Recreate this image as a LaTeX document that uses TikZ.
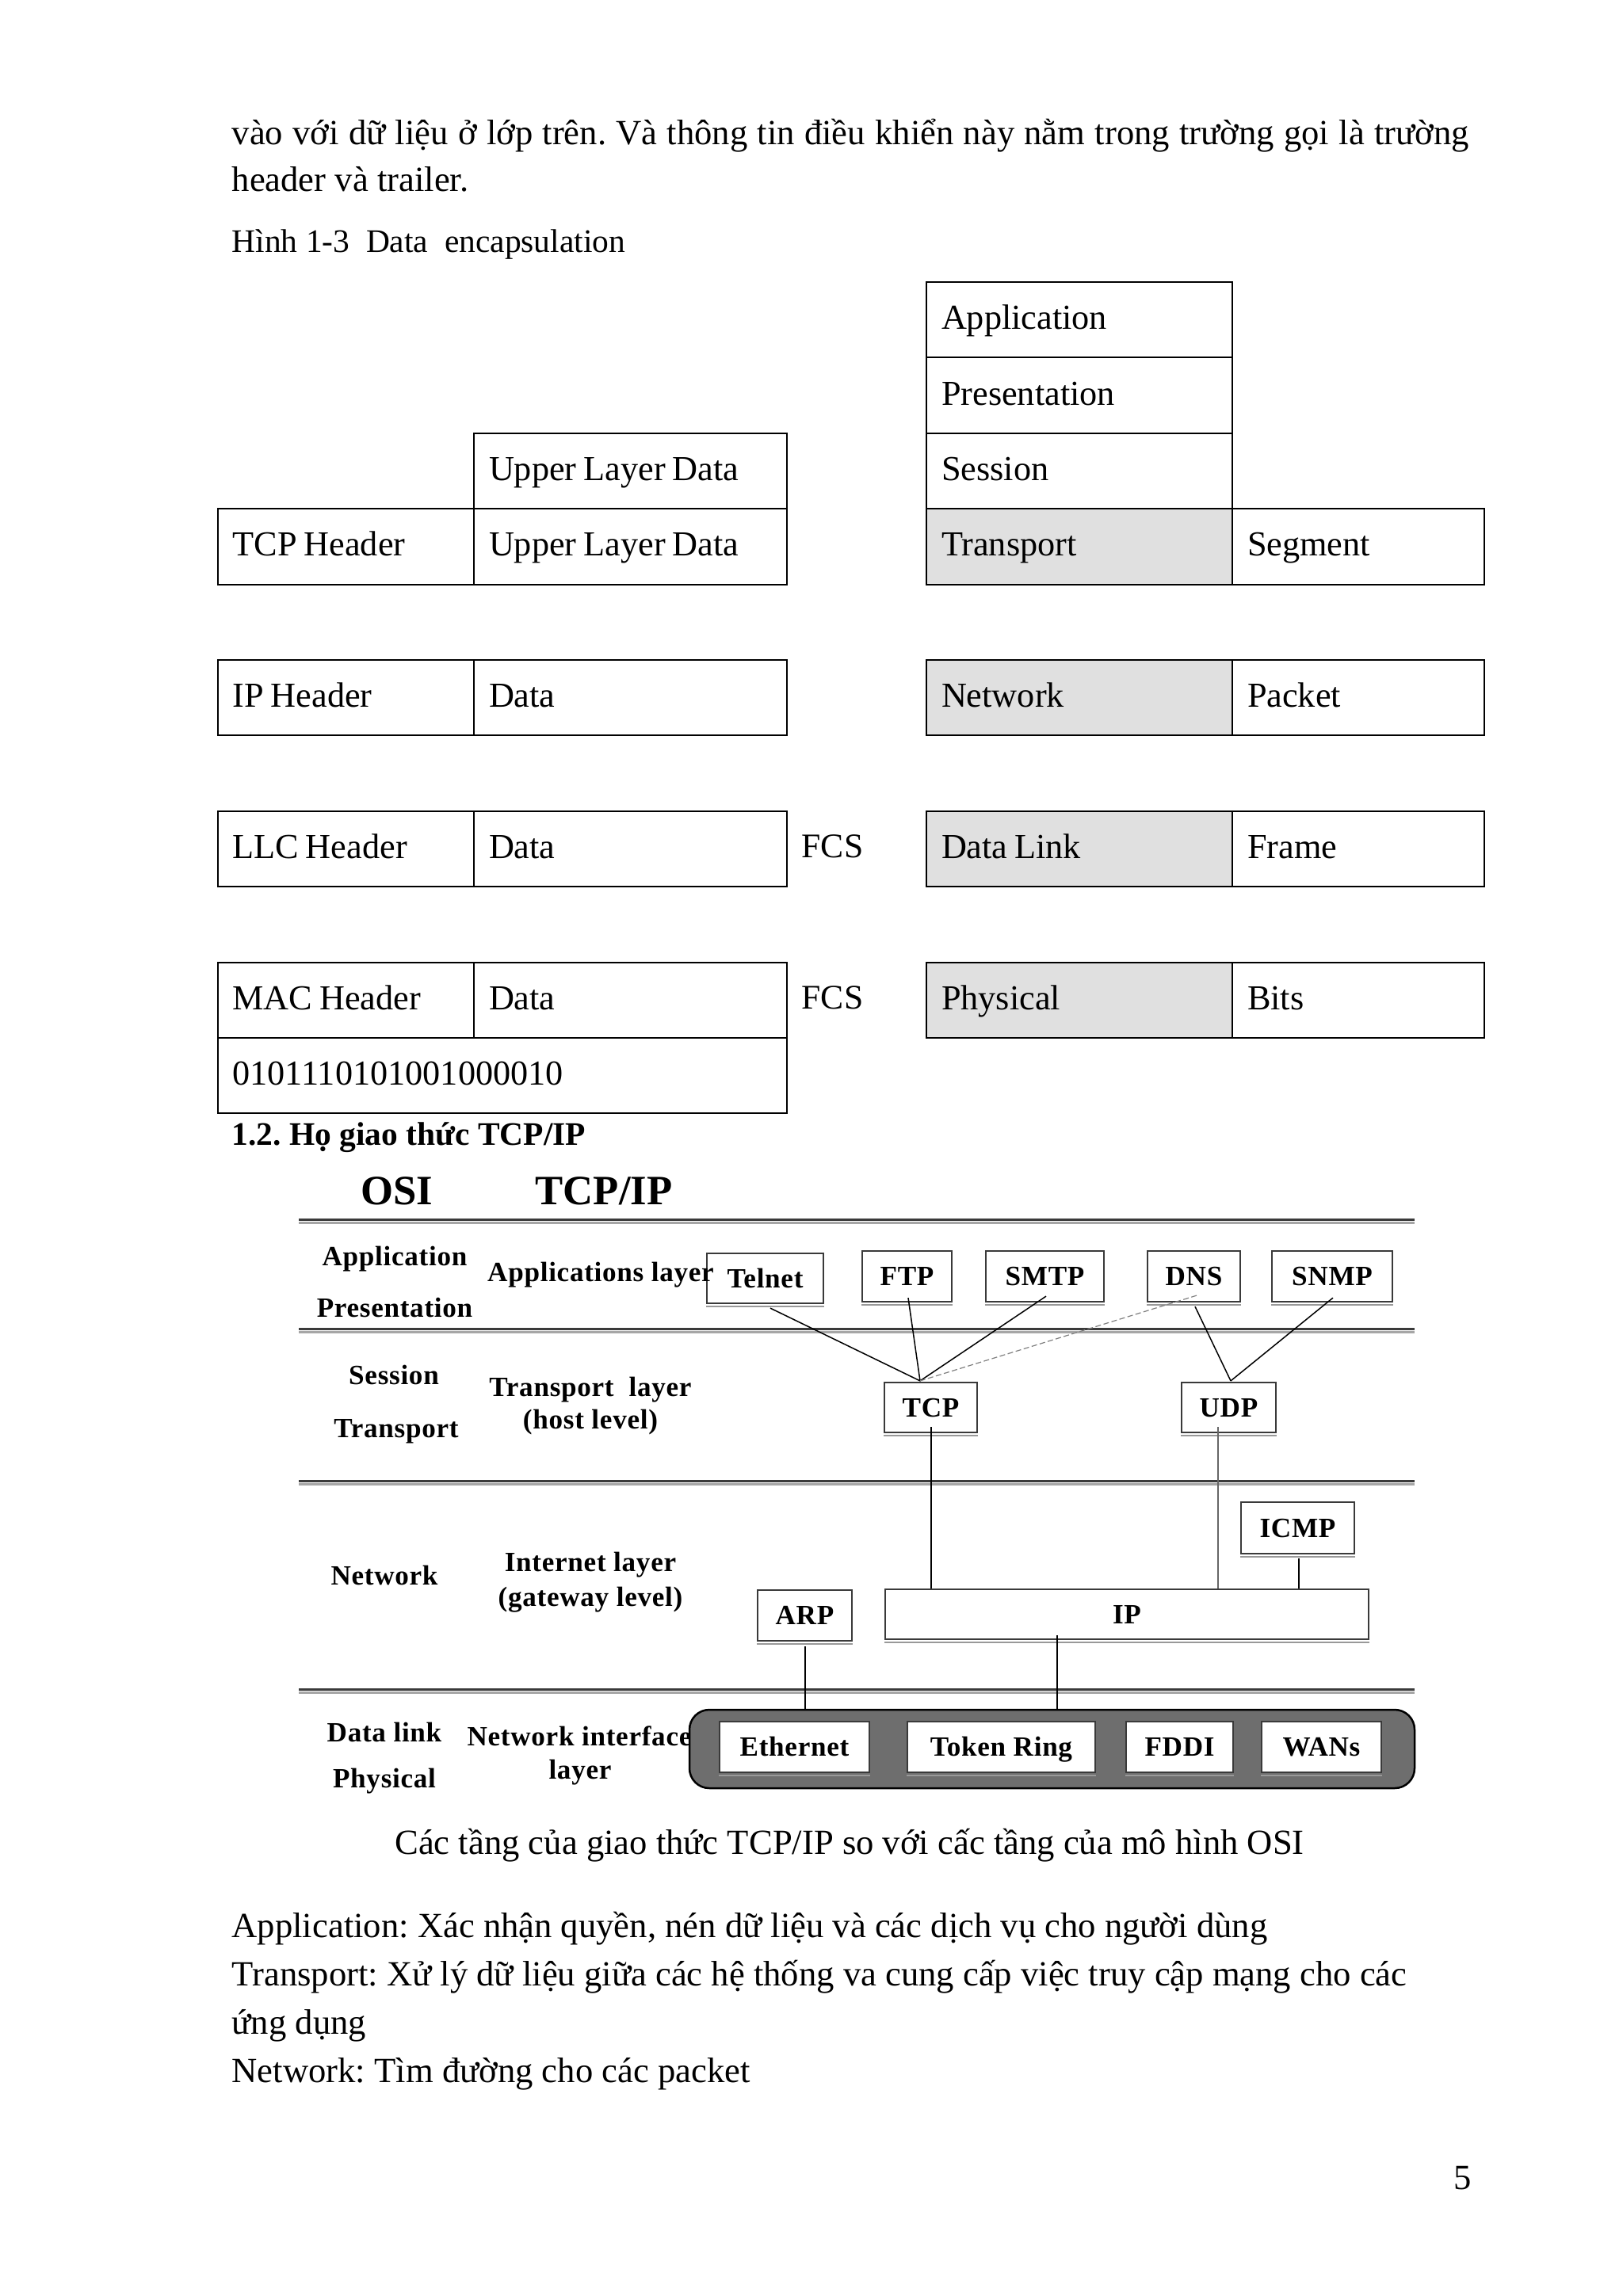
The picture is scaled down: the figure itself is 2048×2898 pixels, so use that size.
\documentclass[tikz,border=0pt]{standalone}
\usepackage{fontspec}
\setmainfont{Liberation Serif}
\newfontfamily\figfont[LetterSpace=2]{Liberation Serif}
\usetikzlibrary{calc}
\definecolor{cellgray}{HTML}{E0E0E0}
\definecolor{linegray}{HTML}{3A3A3A}
\definecolor{nifgray}{HTML}{6E6E6E}
\frenchspacing
\begin{document}
\begin{tikzpicture}[x=0.1mm,y=-0.1mm,
  body/.style={anchor=base west,inner sep=0pt,font=\fontsize{12.7pt}{15pt}\selectfont},
  cell/.style={draw=black,line width=0.2mm,anchor=north west,minimum height=9.54mm,
    inner xsep=1.9mm,inner ysep=0pt,text height=3.2mm,text depth=0.8mm,align=left,
    font=\fontsize{12.6pt}{15pt}\selectfont,
    execute at begin node={\spaceskip=0.2em\relax}},
  gcell/.style={cell,fill=cellgray},
  fcs/.style={anchor=base west,inner sep=0pt,font=\fontsize{12.4pt}{15pt}\selectfont},
  figlab/.style={anchor=base,inner sep=0pt,font=\figfont\bfseries\fontsize{10pt}{12pt}\selectfont},
  bigtitle/.style={anchor=base,inner sep=0pt,font=\bfseries\fontsize{15pt}{18pt}\selectfont},
  figbox/.style={draw=linegray,line width=0.22mm,fill=white,inner sep=0pt,text height=2.3mm,
    text depth=0pt,font=\figfont\bfseries\fontsize{10pt}{12pt}\selectfont},
  hline/.style={draw=linegray,line width=0.3mm},
  conn/.style={draw=black,line width=0.15mm},
  shade/.style={draw=gray!70,line width=0.3mm}
]
\fill[white] (0,0) rectangle (2048,2898);
\useasboundingbox (0,0) rectangle (2048,2898);

% ---------- top text ----------
\node[body] (l1) at (292,182) {\hbox to 156.1mm{vào với dữ liệu ở lớp trên. Và thông tin điều khiển này nằm trong trường gọi là trường}};
\node[body] (l2) at (292,241) {header và trailer.};
\node[body,font=\fontsize{11.8pt}{14pt}\selectfont] (cap1) at (292,318) {Hình 1-3\ \ Data\ \ encapsulation};

% ---------- encapsulation: right column ----------
\node[cell,text width=34.8mm] (app)  at (1168,355) {Application};
\node[cell,text width=34.8mm] (pres) at (1168,450.4) {Presentation};
\node[cell,text width=34.8mm] (sess) at (1168,545.8) {Session};
\node[gcell,text width=34.8mm] (trans) at (1168,641.2) {Transport};
\node[cell,text width=28.0mm] (seg)  at (1554,641.2) {Segment};
\node[gcell,text width=34.8mm] (net) at (1168,832) {Network};
\node[cell,text width=28.0mm] (pkt)  at (1554,832) {Packet};
\node[gcell,text width=34.8mm] (dl) at (1168,1022.8) {Data Link};
\node[cell,text width=28.0mm] (frm)  at (1554,1022.8) {Frame};
\node[gcell,text width=34.8mm] (phy) at (1168,1213.6) {Physical};
\node[cell,text width=28.0mm] (bts)  at (1554,1213.6) {Bits};

% ---------- encapsulation: left column ----------
\node[cell,text width=35.7mm] (uld1) at (597,545.8) {Upper Layer Data};
\node[cell,text width=28.55mm] (tcph) at (273.5,641.2) {TCP Header};
\node[cell,text width=35.7mm] (uld2) at (597,641.2) {Upper Layer Data};
\node[cell,text width=28.55mm] (iph) at (273.5,832) {IP Header};
\node[cell,text width=35.7mm] (ipd) at (597,832) {Data};
\node[cell,text width=28.55mm] (llch) at (273.5,1022.8) {LLC Header};
\node[cell,text width=35.7mm] (llcd) at (597,1022.8) {Data};
\node[fcs] (fcs1) at (1011,1082.5) {FCS};
\node[cell,text width=28.55mm] (mach) at (273.5,1213.6) {MAC Header};
\node[cell,text width=35.7mm] (macd) at (597,1213.6) {Data};
\node[fcs] (fcs2) at (1011,1273.3) {FCS};
\node[cell,text width=68.05mm] (bitrow) at (273.5,1309) {0101110101001000010};

% ---------- section heading ----------
\node[body,font=\bfseries\fontsize{11.8pt}{15pt}\selectfont] (sec) at (292,1445) {1.2. Họ giao thức TCP/IP};

% ---------- TCP/IP figure ----------
\node[bigtitle] (osiT) at (501,1520) {OSI};
\node[bigtitle] (tcpipT) at (762,1520) {TCP/IP};

\foreach \yy in {1539,1677,1869,2132}{
  \draw[shade] (377,\yy+4) -- (1785,\yy+4);
  \draw[hline] (377,\yy) -- (1785,\yy);
}

\node[figlab] (oApp) at (498,1597) {Application};
\node[figlab] (oPres) at (498,1662) {Presentation};
\node[figlab] (oSess) at (497,1747) {Session};
\node[figlab] (oTrans) at (500,1814) {Transport};
\node[figlab] (tTrans) at (745,1762) {Transport\ \ layer};
\node[figlab] (tHost) at (745,1803) {(host level)};
\node[figlab] (oNet) at (485,2000) {Network};
\node[figlab] (tInt) at (745,1983) {Internet layer};
\node[figlab] (tGate) at (745,2027) {(gateway level)};
\node[figlab] (oDL) at (485,2198) {Data link};
\node[figlab] (oPhy) at (485,2256) {Physical};
\node[figlab] (tNif) at (731,2203) {Network interface};
\node[figlab] (tNif2) at (732,2245) {layer};

% application boxes
\node[figbox,minimum width=14.7mm,minimum height=6.3mm] (telnet) at (965.5,1613.5) {Telnet};
\node[figbox,minimum width=11.3mm,minimum height=6.4mm] (ftp) at (1144.5,1611) {FTP};
\node[figbox,minimum width=14.9mm,minimum height=6.4mm] (smtp) at (1318.5,1611) {SMTP};
\node[figbox,minimum width=11.7mm,minimum height=6.4mm] (dns) at (1506.5,1611) {DNS};
\node[figbox,minimum width=15.2mm,minimum height=6.4mm] (snmp) at (1681,1611) {SNMP};
% transport boxes
\node[figbox,minimum width=11.7mm,minimum height=6.3mm] (tcp) at (1174.5,1776.5) {TCP};
\node[figbox,minimum width=11.9mm,minimum height=6.3mm] (udp) at (1550.5,1776.5) {UDP};
% network boxes
\node[figbox,minimum width=14.3mm,minimum height=6.5mm] (icmp) at (1637.5,1928.5) {ICMP};
\node[figbox,minimum width=11.9mm,minimum height=6.4mm] (arp) at (1015.5,2039) {ARP};
\node[figbox,minimum width=61.0mm,minimum height=6.3mm] (ip) at (1422,2037.5) {IP};
% network interface
\node[draw=black,line width=0.25mm,fill=nifgray,rounded corners=2.5mm,inner sep=0pt,
      minimum width=91.5mm,minimum height=9.9mm] (nif) at (1327.5,2207.5) {};
\node[figbox,minimum width=18.9mm,minimum height=6.4mm] (eth) at (1002.5,2205) {Ethernet};
\node[figbox,minimum width=23.7mm,minimum height=6.4mm] (tok) at (1263.5,2205) {Token Ring};
\node[figbox,minimum width=13.5mm,minimum height=6.4mm] (fddi) at (1488.5,2205) {FDDI};
\node[figbox,minimum width=15.1mm,minimum height=6.4mm] (wans) at (1667.5,2205) {WANs};

% box bottom shading
\foreach \b in {telnet,ftp,smtp,dns,snmp,tcp,udp,icmp,arp,ip,eth,tok,fddi,wans}{
  \draw[draw=gray!80,line width=0.25mm] ($(\b.south west)+(0,3)$) -- ($(\b.south east)+(0,3)$);
}

% label that overlaps the Telnet box
\node[figlab] (tApp) at (758,1617) {Applications layer};

% connectors
\coordinate (tcpin) at ($(tcp.north)+(-13.5,-1)$);
\coordinate (udpin) at ($(udp.north)+(2.5,-1)$);
\draw[conn] ($(telnet.south)+(6.5,5)$) -- (tcpin);
\draw[conn] ($(ftp.south)+(1.5,-6)$) -- (tcpin);
\draw[conn] ($(smtp.south)+(1.5,-8)$) -- (tcpin);
\draw[draw=gray,line width=0.12mm,dash pattern=on 2pt off 1pt] ($(dns.south)+(3.5,-9)$) -- (tcpin);
\draw[conn] ($(dns.south)+(1.5,5)$) -- (udpin);
\draw[conn] ($(snmp.south)+(1,-6)$) -- (udpin);
\coordinate (tcpout) at ($(tcp.south)+(0.5,-8)$);
\draw[conn] (tcpout) -- (tcpout |- ip.north);
\coordinate (udpout) at ($(udp.south)+(-13.5,-8)$);
\draw[draw=gray!80!black,line width=0.18mm] (udpout) -- (udpout |- ip.north);
\coordinate (icmpout) at ($(icmp.south)+(1.5,5)$);
\draw[conn] (icmpout) -- (icmpout |- ip.north);
\coordinate (arpout) at ($(arp.south)+(0.5,6)$);
\draw[conn] (arpout) -- (arpout |- nif.north);
\coordinate (ipout) at ($(ip.south west)+(218,-6)$);
\draw[conn] (ipout) -- (ipout |- nif.north);

% ---------- caption & body ----------
\node[anchor=base,inner sep=0pt,font=\fontsize{12.7pt}{15pt}\selectfont] (cap2) at (1072,2340) {Các tầng của giao thức TCP/IP so với cấc tầng của mô hình OSI};
\node[body] (b1) at (292,2445) {Application: Xác nhận quyền, nén dữ liệu và các dịch vụ cho người dùng};
\node[body] (b2) at (292,2506) {Transport: Xử lý dữ liệu giữa các hệ thống va cung cấp việc truy cập mạng cho các};
\node[body] (b3) at (292,2567) {ứng dụng};
\node[body] (b4) at (292,2628) {Network: Tìm đường cho các packet};
\node[body] (pg) at (1834,2763) {5};
\end{tikzpicture}
\end{document}
